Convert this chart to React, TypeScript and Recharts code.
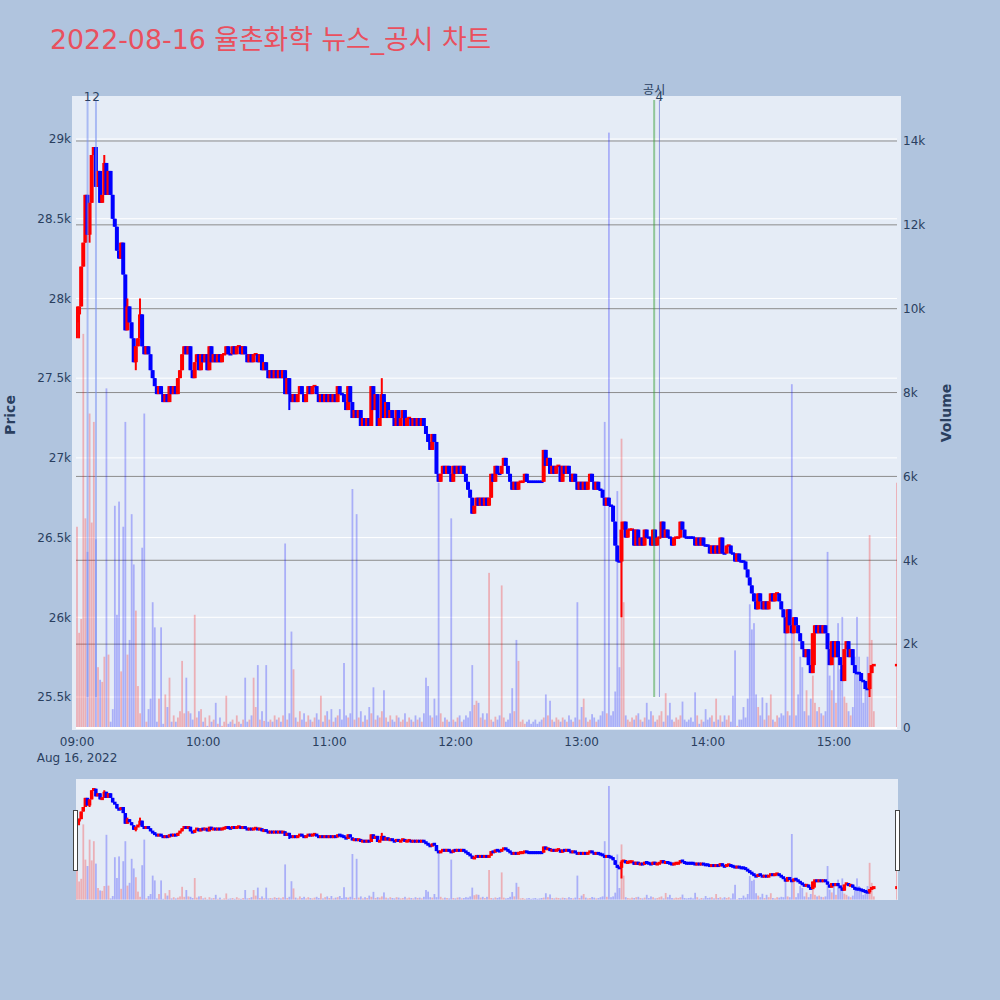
import React from "react";
import { ComposedChart, Bar, XAxis, YAxis, CartesianGrid, ReferenceLine } from "recharts";

// 1-minute candles from 09:00 (minute 0) to 15:19, then the 15:30 closing auction
const OPEN_PRICE = 27850;

const closePrices = [
  27900, 27950, 28200, 28350, 28650, 28400, 28600, 28900, 28950, 28700, // 09:00
  28800, 28600, 28650, 28850, 28650, 28800, 28650, 28500, 28450, 28300, // 09:10
  28250, 28350, 28150, 27800, 27950, 27850, 27750, 27600, 27700, 27750, // 09:20
  27900, 27700, 27650, 27700, 27650, 27550, 27500, 27450, 27400, 27450, // 09:30
  27400, 27350, 27400, 27350, 27450, 27400, 27450, 27400, 27500, 27550, // 09:40
  27650, 27700, 27650, 27700, 27550, 27500, 27600, 27650, 27550, 27650, // 09:50
  27600, 27650, 27550, 27700, 27600, 27650, 27600, 27650, 27600, 27650, // 10:00
  27650, 27700, 27650, 27650, 27700, 27650, 27700, 27700, 27650, 27700, // 10:10
  27650, 27600, 27650, 27600, 27650, 27650, 27600, 27650, 27550, 27600, // 10:20
  27550, 27500, 27550, 27500, 27550, 27500, 27550, 27500, 27550, 27400, // 10:30
  27500, 27400, 27350, 27400, 27350, 27400, 27450, 27400, 27350, 27400, // 10:40
  27450, 27400, 27450, 27450, 27400, 27350, 27400, 27350, 27400, 27350, // 10:50
  27400, 27350, 27400, 27350, 27450, 27400, 27400, 27350, 27300, 27450, // 11:00
  27350, 27250, 27300, 27250, 27300, 27200, 27250, 27200, 27250, 27200, // 11:10
  27450, 27300, 27400, 27200, 27250, 27400, 27250, 27350, 27250, 27300, // 11:20
  27250, 27200, 27300, 27200, 27250, 27300, 27200, 27250, 27250, 27200, // 11:30
  27250, 27200, 27250, 27200, 27250, 27200, 27150, 27100, 27050, 27150, // 11:40
  27100, 26900, 26850, 26900, 26950, 26900, 26950, 26900, 26850, 26950, // 11:50
  26900, 26950, 26900, 26950, 26900, 26850, 26800, 26750, 26650, 26700, // 12:00
  26750, 26700, 26750, 26700, 26750, 26700, 26750, 26900, 26850, 26950, // 12:10
  26900, 26900, 26950, 27000, 26950, 26900, 26850, 26800, 26850, 26800, // 12:20
  26850, 26850, 26850, 26900, 26850, 26850, 26850, 26850, 26850, 26850, // 12:30
  26850, 26850, 27050, 26950, 27000, 26900, 26950, 26900, 26950, 26950, // 12:40
  26850, 26950, 26900, 26950, 26900, 26850, 26900, 26850, 26800, 26850, // 12:50
  26800, 26850, 26800, 26850, 26900, 26850, 26800, 26850, 26800, 26800, // 13:00
  26750, 26700, 26750, 26700, 26700, 26600, 26450, 26350, 26350, 26550, // 13:10
  26600, 26500, 26550, 26550, 26550, 26450, 26550, 26450, 26500, 26450, // 13:20
  26550, 26500, 26500, 26450, 26550, 26450, 26500, 26500, 26600, 26500, // 13:30
  26550, 26500, 26500, 26450, 26500, 26500, 26500, 26600, 26550, 26500, // 13:40
  26500, 26500, 26500, 26500, 26450, 26500, 26450, 26500, 26450, 26450, // 13:50
  26450, 26400, 26450, 26400, 26450, 26400, 26500, 26400, 26400, 26450, // 14:00
  26450, 26400, 26400, 26350, 26400, 26350, 26350, 26350, 26300, 26250, // 14:10
  26200, 26150, 26100, 26050, 26150, 26100, 26050, 26100, 26050, 26100, // 14:20
  26150, 26100, 26150, 26150, 26100, 26050, 26000, 25900, 26050, 25950, // 14:30
  25900, 26000, 25950, 25900, 25850, 25800, 25750, 25800, 25700, 25650, // 14:40
  25900, 25950, 25900, 25950, 25900, 25950, 25900, 25800, 25700, 25850, // 14:50
  25750, 25850, 25750, 25700, 25600, 25800, 25850, 25750, 25800, 25700, // 15:00
  25650, 25650, 25650, 25600, 25600, 25550, 25550, 25650, 25700, 25700, // 15:10
];

const volumes = [
  4800, 2270, 2600, 9400, 5000, 4200, 7500, 4900, 7300, 4500,
  1450, 1150, 1100, 1700, 8100, 1750, 150, 450, 5300, 2700,
  5400, 1350, 4800, 7300, 1750, 2100, 5100, 3900, 2800, 1000,
  350, 4300, 7500, 150, 450, 700, 3000, 2400, 150, 700,
  2400, 100, 800, 500, 1200, 150, 300, 150, 250, 400,
  1600, 350, 1200, 400, 350, 200, 2700, 250, 400, 450,
  150, 250, 50, 300, 150, 200, 600, 100, 250, 50,
  150, 770, 100, 150, 200, 100, 300, 150, 100, 200,
  1200, 150, 200, 300, 1200, 500, 1500, 200, 400, 170,
  1500, 150, 200, 150, 300, 200, 250, 150, 300, 4400,
  200, 350, 2300, 1400, 250, 150, 400, 200, 350, 150,
  300, 200, 150, 250, 350, 200, 770, 150, 300, 400,
  200, 450, 150, 250, 300, 450, 200, 1550, 300, 250,
  350, 5700, 200, 5100, 250, 400, 150, 300, 200, 500,
  350, 970, 200, 300, 250, 400, 900, 250, 150, 300,
  200, 150, 300, 250, 150, 200, 350, 150, 250, 200,
  150, 300, 200, 250, 150, 350, 1200, 1000, 300, 250,
  700, 300, 5850, 350, 150, 250, 200, 150, 5000, 200,
  150, 250, 300, 150, 200, 300, 250, 400, 1500, 550,
  650, 600, 250, 350, 200, 350, 3700, 200, 150, 270,
  200, 300, 3400, 250, 150, 200, 350, 950, 400, 2100,
  1600, 150, 200, 100, 150, 200, 100, 150, 200, 100,
  150, 200, 250, 800, 300, 650, 200, 150, 250, 200,
  150, 250, 200, 150, 300, 200, 150, 250, 3000, 200,
  500, 700, 250, 150, 200, 330, 250, 150, 200, 300,
  400, 7300, 350, 14200, 300, 400, 870, 5650, 1450, 6900,
  3000, 300, 200, 150, 250, 200, 300, 350, 200, 150,
  250, 600, 200, 400, 300, 150, 200, 300, 400, 150,
  830, 300, 600, 200, 150, 250, 200, 300, 630, 200,
  150, 200, 250, 150, 850, 300, 100, 200, 150, 450,
  200, 250, 300, 150, 700, 200, 300, 150, 300, 200,
  300, 150, 770, 1850, 50, 200, 200, 500, 250, 700,
  2950, 2350, 2500, 800, 500, 300, 730, 200, 600, 300,
  800, 200, 150, 300, 250, 350, 300, 2400, 400, 300,
  8200, 2300, 300, 800, 1700, 1450, 400, 900, 300, 700,
  1250, 600, 400, 500, 350, 300, 400, 4200, 1250, 900,
  1700, 600, 2500, 1400, 2650, 750, 600, 400, 300, 500,
  1700, 2650, 1700, 1250, 600, 1050, 1700, 4600, 2100, 400,
];

// [minute, high, low] where the wick goes past the body
const wicks: [number, number, number][] = [
  [0, 27950, 27750], [1, 27950, 27750], [6, 28600, 28350], [13, 28900, 28650],
  [24, 28000, 27800], [28, 27700, 27550], [30, 28000, 27750], [101, 27500, 27300],
  [145, 27500, 27250], [259, 26600, 26000], [351, 25950, 25700], [377, 25650, 25500],
];

// closing auction at 15:30
const auctionMinute = 390;
const auctionClose = 25700;
const auctionVolume = 5850;

const priceTicks = [25500, 26000, 26500, 27000, 27500, 28000, 28500, 29000];
const volumeTicks = [0, 2000, 4000, 6000, 8000, 10000, 12000, 14000];
const hourTicks = [0, 60, 120, 180, 240, 300, 360];
const hourLabels = ["09:00", "10:00", "11:00", "12:00", "13:00", "14:00", "15:00"];

// news / disclosure markers
const newsMarks = [
  { t: 5, label: "1", color: "rgba(120,145,240,0.55)", width: 2, dy: 1 },
  { t: 9, label: "2", color: "rgba(120,145,240,0.55)", width: 2, dy: 1 },
  { t: 274.5, label: "공시", color: "rgba(60,160,60,0.5)", width: 2, dy: -6 },
  { t: 277, label: "4", color: "rgba(70,80,200,0.55)", width: 1, dy: 1 },
];
const markSpan = [25500, 29245];

const PRICE_DOMAIN: [number, number] = [25293, 29270];
const VOLUME_DOMAIN: [number, number] = [-48, 15073];
const TIME_DOMAIN: [number, number] = [-0.5, 390];

const UP = "#ff0000";
const DOWN = "#0000ff";
const INK = "#2a3f5f";
const FONT = "'DejaVu Sans', Verdana, sans-serif";

const minutes = [...closePrices.map((_, i) => i), auctionMinute];
const closes = [...closePrices, auctionClose];
const vols = [...volumes, auctionVolume];

let lastDir = 1;
const rows = closes.map((c, k) => {
  const o = k === 0 ? OPEN_PRICE : closes[k - 1];
  const w = wicks.find((e) => e[0] === minutes[k]);
  const high = Math.max(o, c, w ? w[1] : c);
  const low = Math.min(o, c, w ? w[2] : c);
  const dir = c > o ? 1 : c < o ? -1 : lastDir;
  lastDir = dir;
  return { t: minutes[k], open: o, close: c, high, low, range: [low, high], volume: vols[k], up: dir > 0 };
});

const fmtK = (v: number) => (v === 0 ? "0" : `${v / 1000}k`);

const makeCandle = (bodyW: number, wickW: number, minH: number) => (props: any) => {
  const { x, y, width, height, payload } = props;
  if (!payload || x == null || y == null) return <g />;
  const color = payload.up ? UP : DOWN;
  const cx = x + width / 2;
  const top = Math.min(y, y + height);
  const h = Math.abs(height);
  const span = payload.high - payload.low;
  const k = span > 0 ? h / span : 0;
  const yOf = (v: number) => top + (payload.high - v) * k;
  const bTop = yOf(Math.max(payload.open, payload.close));
  const bBot = yOf(Math.min(payload.open, payload.close));
  const bh = Math.max(bBot - bTop, minH);
  const by = (bTop + bBot) / 2 - bh / 2;
  return (
    <g>
      {h > 0 && <line x1={cx} x2={cx} y1={top} y2={top + h} stroke={color} strokeWidth={wickW} />}
      <rect x={cx - bodyW / 2} y={by} width={bodyW} height={bh} fill={color} />
    </g>
  );
};

const makeVolume = (barW: number) => (props: any) => {
  const { x, y, width, height, payload } = props;
  if (!payload || x == null || y == null) return <g />;
  const cx = x + width / 2;
  return (
    <rect
      x={cx - barW / 2}
      y={Math.min(y, y + height)}
      width={barW}
      height={Math.abs(height)}
      fill={payload.up ? "rgba(255,0,0,0.26)" : "rgba(0,0,255,0.26)"}
    />
  );
};

const HourTick = (props: any) => {
  const { x, y, payload } = props;
  const idx = hourTicks.indexOf(payload.value);
  return (
    <g>
      <text x={x} y={y + 16} textAnchor="middle" fontSize={12} fill={INK} fontFamily={FONT}>
        {hourLabels[idx]}
      </text>
      {idx === 0 && (
        <text x={x} y={y + 31.5} textAnchor="middle" fontSize={12} fill={INK} fontFamily={FONT}>
          Aug 16, 2022
        </text>
      )}
    </g>
  );
};

const markLabel = (text: string, dy: number) => (p: any) => {
  const vb = p.viewBox || {};
  return (
    <text x={vb.x} y={(vb.y || 0) + dy} textAnchor="middle" fontSize={12} fill={INK}
      fontFamily={"'DejaVu Sans', 'Noto Sans CJK KR', sans-serif"}>
      {text}
    </text>
  );
};

const tickStyle = { fill: INK, fontSize: 12, fontFamily: FONT };

export default function App() {
  return (
    <div style={{ position: "absolute", left: 0, top: 0, width: 1000, height: 1000, background: "#b0c4de", overflow: "hidden" }}>
      {/* plot + rangeslider backgrounds */}
      <div style={{ position: "absolute", left: 72, top: 96, width: 829, height: 634, background: "#e5ecf6" }} />
      <div style={{ position: "absolute", left: 76, top: 779, width: 822, height: 121, background: "#e5ecf6" }} />

      <div style={{ position: "absolute", left: 0, top: 0 }}>
        <ComposedChart width={1000} height={790} data={rows} margin={{ top: 96, right: 0, bottom: 30, left: 0 }}>
          <XAxis xAxisId="main" dataKey="t" type="number" domain={TIME_DOMAIN} ticks={hourTicks} interval={0}
            tick={<HourTick />} axisLine={false} tickLine={false} tickSize={0} tickMargin={0} height={30} allowDataOverflow />
          <XAxis xAxisId="vx" dataKey="t" type="number" domain={TIME_DOMAIN} hide allowDataOverflow />
          <YAxis yAxisId="price" orientation="left" width={76} domain={PRICE_DOMAIN} ticks={priceTicks} interval={0}
            tickFormatter={fmtK} axisLine={false} tickLine={false} tickSize={0} tickMargin={5} tick={tickStyle} allowDataOverflow />
          <YAxis yAxisId="vol" orientation="right" width={103} domain={VOLUME_DOMAIN} ticks={volumeTicks} interval={0}
            tickFormatter={fmtK} axisLine={false} tickLine={false} tickSize={0} tickMargin={6} tick={tickStyle} allowDataOverflow />
          <CartesianGrid xAxisId="main" yAxisId="price" vertical={false} horizontalValues={priceTicks} stroke="#ffffff" strokeWidth={1} />
          <CartesianGrid xAxisId="main" yAxisId="vol" vertical={false} horizontalValues={volumeTicks} stroke="#8c8c8c" strokeWidth={1} />
          <ReferenceLine xAxisId="main" yAxisId="vol" y={0} stroke="#ffffff" strokeWidth={2} />
          <Bar xAxisId="vx" yAxisId="vol" dataKey="volume" barSize={2} shape={makeVolume(1.8)} isAnimationActive={false} />
          {newsMarks.map((m) => (
            <ReferenceLine
              key={m.label}
              xAxisId="main"
              yAxisId="price"
              segment={[{ x: m.t, y: markSpan[0] }, { x: m.t, y: markSpan[1] }]}
              stroke={m.color}
              strokeWidth={m.width}
              label={markLabel(m.label, m.dy)}
            />
          ))}
          <Bar xAxisId="main" yAxisId="price" dataKey="range" barSize={3} shape={makeCandle(4, 2, 2.5)} isAnimationActive={false} />
        </ComposedChart>
      </div>

      {/* rangeslider preview */}
      <div style={{ position: "absolute", left: 0, top: 779 }}>
        <ComposedChart width={1000} height={121} data={rows} margin={{ top: 0, right: 103, bottom: 0, left: 76 }}>
          <XAxis xAxisId="main" dataKey="t" type="number" domain={TIME_DOMAIN} hide allowDataOverflow />
          <XAxis xAxisId="vx" dataKey="t" type="number" domain={TIME_DOMAIN} hide allowDataOverflow />
          <YAxis yAxisId="price" domain={PRICE_DOMAIN} hide allowDataOverflow />
          <YAxis yAxisId="vol" orientation="right" domain={VOLUME_DOMAIN} hide allowDataOverflow />
          <Bar xAxisId="vx" yAxisId="vol" dataKey="volume" barSize={2} shape={makeVolume(1.8)} isAnimationActive={false} />
          <Bar xAxisId="main" yAxisId="price" dataKey="range" barSize={3} shape={makeCandle(3.5, 2, 3)} isAnimationActive={false} />
        </ComposedChart>
      </div>
      <div style={{ position: "absolute", left: 73, top: 810, width: 3, height: 59, background: "#fff", border: "1px solid #444" }} />
      <div style={{ position: "absolute", left: 895, top: 810, width: 3, height: 59, background: "#fff", border: "1px solid #444" }} />

      <svg width={1000} height={1000} style={{ position: "absolute", left: 0, top: 0, pointerEvents: "none" }}>
        <text x={50} y={49} fontSize={26.8} fill="#e9505e" fontFamily="'DejaVu Sans', 'Noto Sans CJK KR', sans-serif">
          2022-08-16 율촌화학 뉴스_공시 차트
        </text>
        <text x={15} y={415} transform="rotate(-90 15 415)" textAnchor="middle" fontSize={14} fontWeight="bold" fill={INK} fontFamily={FONT}>
          Price
        </text>
        <text x={951} y={413} transform="rotate(-90 951 413)" textAnchor="middle" fontSize={14} fontWeight="bold" fill={INK} fontFamily={FONT}>
          Volume
        </text>
      </svg>
    </div>
  );
}
